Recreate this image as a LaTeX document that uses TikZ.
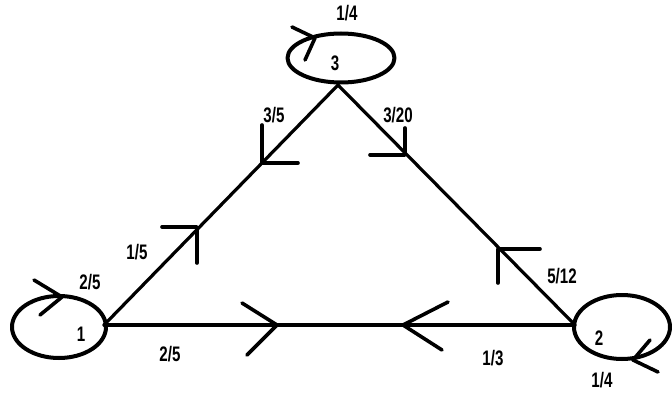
\documentclass[tikz,border=0pt]{standalone}
\usepackage{fontspec}
\setmainfont{Liberation Sans}[FakeStretch=0.72]
\usetikzlibrary{shapes.geometric}
\begin{document}
\begin{tikzpicture}[x=1pt,y=-1pt,
  line cap=round, line join=round,
  statebox/.style={draw=black, line width=4pt, ellipse, inner sep=0pt},
  edge/.style={draw=black, line width=3.2pt},
  chev/.style={draw=black, line width=3.6pt},
  lbl/.style={font=\fontsize{21}{22}\selectfont\bfseries, inner sep=0pt}]
\useasboundingbox (0,0) rectangle (672,393);
% states
\node[statebox, minimum width=94pt, minimum height=62pt] (n1) at (59,327) {};
\node[statebox, minimum width=96pt, minimum height=64pt] (n2) at (622,327) {};
\node[statebox, minimum width=107pt, minimum height=49pt] (n3) at (341,58) {};
% vertices on the ellipses
\coordinate (v1) at (104,325);
\coordinate (v2) at (575,325);
\coordinate (v3) at (338,85);
% edges
\draw[edge] (v1) -- (v2);
\draw[edge] (v1) -- (v3);
\draw[edge] (v3) -- (v2);
% chevrons on edges
\draw[chev] (242,303) -- (277,325) -- (247,355);
\draw[chev] (448,302) -- (403,325) -- (442,350);
\draw[chev] (162,227) -- (197,227) -- (197,263);
\draw[chev] (262,125) -- (262,163) -- (298,163);
\draw[chev] (405,128) -- (405,155) -- (370,155);
\draw[chev] (540,249) -- (498,249) -- (498,283);
% self-loop chevrons
\draw[chev] (34,280) -- (62,297) -- (40,315);
\draw[chev] (650,340) -- (633,360) -- (658,372);
\draw[chev] (292,27) -- (315,38) -- (305,60);
% state labels
\node[lbl] (t1) at (81,334) {1};
\node[lbl] (t2) at (599,338) {2};
\node[lbl] (t3) at (335,63) {3};
% probabilities
\node[lbl] (p11) at (90,282) {2/5};
\node[lbl] (p12) at (170,354) {2/5};
\node[lbl] (p21) at (493,358) {1/3};
\node[lbl] (p22) at (602,380) {1/4};
\node[lbl] (p23) at (562,276) {5/12};
\node[lbl] (p32) at (398,115) {3/20};
\node[lbl] (p31) at (274,115) {3/5};
\node[lbl] (p33) at (347,13) {1/4};
\node[lbl] (p13) at (137,252) {1/5};
\end{tikzpicture}
\end{document}
